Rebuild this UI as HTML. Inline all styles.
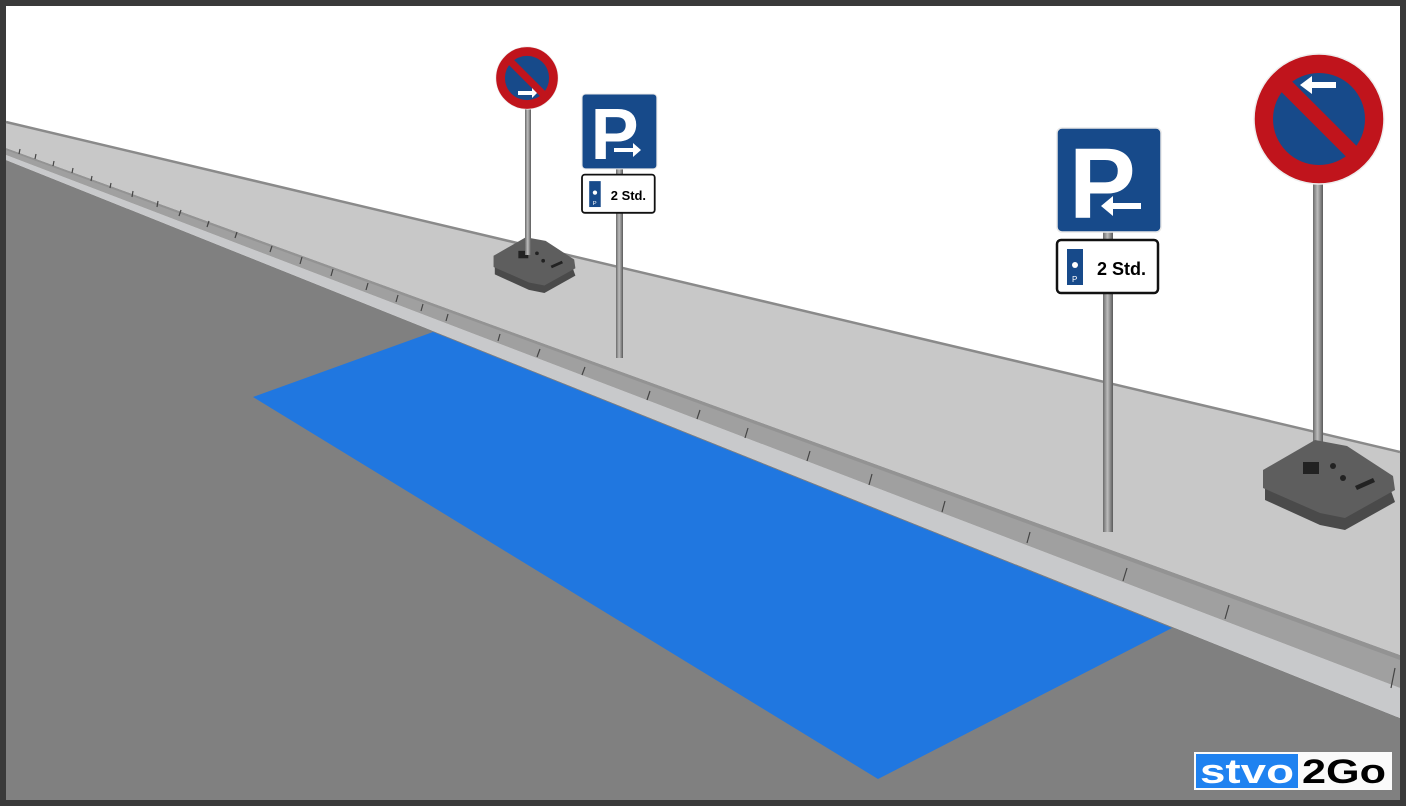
<!DOCTYPE html>
<html><head><meta charset="utf-8"><style>html,body{margin:0;padding:0;background:#3a3a3a}svg{display:block}</style></head>
<body>
<svg width="1406" height="806" viewBox="0 0 1406 806" xmlns="http://www.w3.org/2000/svg">
<defs>
<linearGradient id="pole" x1="0" x2="1"><stop offset="0" stop-color="#6a6a6a"/><stop offset="0.45" stop-color="#bdbdbd"/><stop offset="1" stop-color="#5a5a5a"/></linearGradient>
<g id="psign">
<rect x="0" y="0" width="104" height="104" rx="5" fill="#174a8a" stroke="#e8e8e8" stroke-width="1.5"/>
<text x="12" y="90" font-family="Liberation Sans, sans-serif" font-weight="bold" font-size="100" fill="#fff">P</text>
<rect x="0" y="112" width="101" height="53" rx="4" fill="#fff" stroke="#111" stroke-width="2.5"/>
<rect x="10" y="121" width="16" height="36" fill="#174a8a"/>
<text x="15" y="154" font-family="Liberation Sans, sans-serif" font-size="8" fill="#fff">P</text>
<circle cx="18" cy="137" r="3" fill="#fff"/>
<text x="40" y="147" font-family="Liberation Sans, sans-serif" font-weight="bold" font-size="18" fill="#000">2 Std.</text>
</g>
<g id="npsign">
<circle cx="0" cy="0" r="65" fill="#c0141c" stroke="#eee" stroke-width="1.5"/>
<circle cx="0" cy="0" r="46" fill="#174a8a"/>
<line x1="-40" y1="-40" x2="40" y2="40" stroke="#c0141c" stroke-width="15"/>
</g>
<g id="base">
<polygon points="-60,0 -10,-28 20,-22 65,8 70,22 20,50 -5,45 -60,20" fill="#4a4a4a"/>
<polygon points="-62,-10 -10,-40 22,-34 68,-4 70,10 20,38 -5,33 -62,8" fill="#5e5e5e"/>
<rect x="-22" y="-18" width="16" height="12" fill="#222"/>
<circle cx="8" cy="-14" r="3" fill="#222"/><circle cx="18" cy="-2" r="3" fill="#222"/>
<polygon points="30,6 48,-2 50,2 32,10" fill="#222"/>
</g>
</defs>
<rect x="6" y="6" width="1394" height="794" fill="#fff"/>
<polygon points="6,160 1400,718 1400,800 6,800" fill="#808080"/>
<polygon points="6,155 1400,688 1400,718 6,160" fill="#c8c9cb"/>
<polygon points="6,148 1400,655 1400,688 6,155" fill="#a0a0a0"/>
<polygon points="6,148 1400,655 1400,660 6,150" fill="#939393"/>
<polygon points="6,122 1400,452 1400,655 6,148" fill="#c8c8c8"/>
<line x1="6" y1="122" x2="1400" y2="452" stroke="#8a8a8a" stroke-width="2.5"/>
<g stroke="#444" stroke-width="1.2">
<line x1="20" y1="149" x2="19" y2="154"/><line x1="36" y1="154" x2="35" y2="159"/><line x1="54" y1="161" x2="53" y2="166"/>
<line x1="73" y1="168" x2="72" y2="173"/><line x1="92" y1="176" x2="91" y2="181"/><line x1="111" y1="183" x2="110" y2="188"/>
<line x1="133" y1="191" x2="132" y2="197"/><line x1="158" y1="201" x2="157" y2="207"/><line x1="181" y1="210" x2="179" y2="216"/>
<line x1="209" y1="221" x2="207" y2="227"/><line x1="237" y1="232" x2="235" y2="238"/><line x1="272" y1="246" x2="270" y2="252"/>
<line x1="302" y1="257" x2="300" y2="264"/><line x1="333" y1="269" x2="331" y2="276"/><line x1="368" y1="283" x2="366" y2="290"/>
<line x1="398" y1="295" x2="396" y2="302"/><line x1="423" y1="304" x2="421" y2="311"/><line x1="448" y1="314" x2="446" y2="321"/>
<line x1="500" y1="334" x2="498" y2="341"/><line x1="540" y1="349" x2="537" y2="357"/><line x1="585" y1="367" x2="582" y2="375"/>
<line x1="650" y1="391" x2="647" y2="400"/><line x1="700" y1="410" x2="697" y2="419"/><line x1="748" y1="428" x2="745" y2="438"/>
<line x1="810" y1="451" x2="807" y2="461"/><line x1="872" y1="474" x2="869" y2="485"/><line x1="945" y1="501" x2="942" y2="512"/>
<line x1="1030" y1="532" x2="1027" y2="543"/><line x1="1127" y1="568" x2="1123" y2="581"/><line x1="1229" y1="605" x2="1225" y2="619"/>
<line x1="1395" y1="668" x2="1391" y2="688"/>
</g>
<polygon points="253,397 433,332 1172,628 878,779" fill="#2077e0"/>
<use href="#base" transform="translate(532,262) scale(0.62)"/>
<rect x="525" y="100" width="6" height="155" fill="url(#pole)"/>
<use href="#npsign" transform="translate(527,78) scale(0.48)"/>
<polygon points="518,91 532,91 532,88 537,93 532,98 532,95 518,95" fill="#fff"/>
<rect x="616" y="160" width="7" height="198" fill="url(#pole)"/>
<use href="#psign" transform="translate(582,94) scale(0.72)"/>
<polygon points="614,146 633,146 633,141 641,148 633,155 633,150 614,150" fill="#fff" transform="translate(0,2)"/>
<rect x="1103" y="230" width="10" height="302" fill="url(#pole)"/>
<use href="#psign" transform="translate(1057,128)"/>
<polygon points="1141,203 1113,203 1113,196 1101,206 1113,216 1113,209 1141,209" fill="#fff"/>
<rect x="1313" y="180" width="10" height="280" fill="url(#pole)"/>
<use href="#base" transform="translate(1325,480)"/>
<use href="#npsign" transform="translate(1319,119)"/>
<polygon points="1336,82 1312,82 1312,76 1300,85 1312,94 1312,88 1336,88" fill="#fff"/>
<rect x="1194" y="752" width="198" height="38" fill="#fafafa"/>
<rect x="1196" y="754" width="102" height="34" fill="#1f82f0"/>
<text x="1200" y="783" font-family="Liberation Sans, sans-serif" font-weight="bold" font-size="34" fill="#fff" textLength="94" lengthAdjust="spacingAndGlyphs">stvo</text>
<text x="1302" y="783" font-family="Liberation Sans, sans-serif" font-weight="bold" font-size="34" fill="#000" textLength="84" lengthAdjust="spacingAndGlyphs">2Go</text>
</svg>
</body></html>
